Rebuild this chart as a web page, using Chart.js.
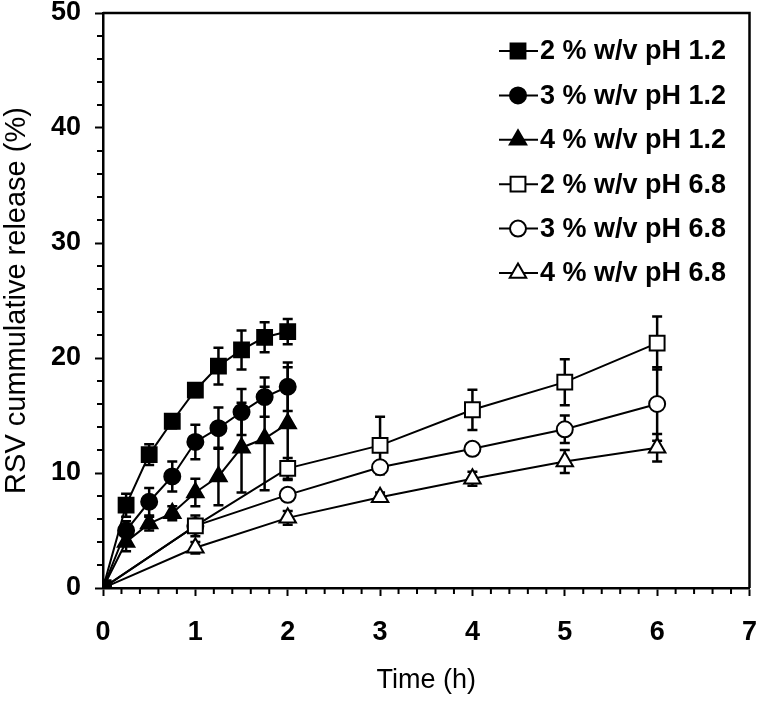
<!DOCTYPE html>
<html>
<head>
<meta charset="utf-8">
<script src="https://cdn.jsdelivr.net/npm/chart.js@4"></script>
<style>
  html, body { margin: 0; padding: 0; background: #fff; }
  #wrap { width: 762px; height: 703px; }
</style>
</head>
<body>
<div id="wrap"><canvas id="graph" width="762" height="703"></canvas></div>
<script>
// sampling times (h)
var timeAcid = [0, 0.25, 0.5, 0.75, 1, 1.25, 1.5, 1.75, 2];
var timeNeutral = [0, 1, 2, 3, 4, 5, 6];

// cumulative release (%) and error (SD)
var acid2 = [0, 7.2, 11.6, 14.5, 17.2, 19.3, 20.7, 21.8, 22.3];
var acid2Err = [0, 1.0, 0.9, 0.6, 0.6, 1.6, 1.7, 1.3, 1.1];
var acid3 = [0, 5.0, 7.5, 9.7, 12.7, 13.9, 15.3, 16.6, 17.5];
var acid3Err = [0, 0.8, 1.2, 1.3, 1.5, 1.8, 2.0, 1.7, 2.1];
var acid4 = [0, 4.0, 5.6, 6.5, 8.3, 9.7, 12.2, 13.0, 14.3];
var acid4Err = [0, 0.8, 0.6, 0.6, 1.2, 2.5, 3.9, 4.5, 4.9];

var neutral2 = [0, 5.4, 10.4, 12.4, 15.5, 17.9, 21.3];
var neutral2Err = [0, 0.9, 0.9, 2.5, 1.75, 2.0, 2.3];
var neutral3 = [0, 5.4, 8.1, 10.5, 12.1, 13.8, 16.0];
var neutral3Err = [0, 0.6, 0.5, 0.5, 0.4, 1.2, 3.2];
var neutral4 = [0, 3.5, 6.1, 7.9, 9.5, 11.0, 12.2];
var neutral4Err = [0, 0.5, 0.6, 0.4, 0.6, 1.0, 1.2];

var seriesLabels = ['2 % w/v pH 1.2', '3 % w/v pH 1.2', '4 % w/v pH 1.2',
                    '2 % w/v pH 6.8', '3 % w/v pH 6.8', '4 % w/v pH 6.8'];

var xTicks = [0, 1, 2, 3, 4, 5, 6, 7];
var yTicks = [0, 10, 20, 30, 40, 50];

function toPoints(xs, ys, errs) {
    var pts = [];
    for (var i = 0; i < xs.length; i++) {
        pts.push({ x: xs[i], y: ys[i], err: errs[i] });
    }
    return pts;
}

function makeSet(label, xs, ys, errs, style, filled) {
    var r = style === 'rect' ? 10.5 : (style === 'triangle' ? 9.5 : 8);
    return {
        label: label,
        data: toPoints(xs, ys, errs),
        showLine: true,
        borderColor: '#000',
        borderWidth: 2,
        pointStyle: style,
        pointRadius: r,
        pointHoverRadius: r,
        pointBackgroundColor: filled ? '#000' : '#fff',
        pointBorderColor: '#000',
        pointBorderWidth: 2
    };
}

var datasets = [
    makeSet(seriesLabels[0], timeAcid, acid2, acid2Err, 'rect', true),
    makeSet(seriesLabels[1], timeAcid, acid3, acid3Err, 'circle', true),
    makeSet(seriesLabels[2], timeAcid, acid4, acid4Err, 'triangle', true),
    makeSet(seriesLabels[3], timeNeutral, neutral2, neutral2Err, 'rect', false),
    makeSet(seriesLabels[4], timeNeutral, neutral3, neutral3Err, 'circle', false),
    makeSet(seriesLabels[5], timeNeutral, neutral4, neutral4Err, 'triangle', false)
];

// error bars drawn under the markers
var errorBars = {
    id: 'errorBars',
    beforeDatasetsDraw: function (chart) {
        var ctx = chart.ctx;
        var xs = chart.scales.x, ys = chart.scales.y;
        ctx.save();
        ctx.strokeStyle = '#000';
        ctx.lineWidth = 2.5;
        chart.data.datasets.forEach(function (ds) {
            ds.data.forEach(function (p) {
                if (!p.err) return;
                var px = xs.getPixelForValue(p.x);
                var top = ys.getPixelForValue(p.y + p.err);
                var bot = ys.getPixelForValue(p.y - p.err);
                ctx.beginPath();
                ctx.moveTo(px, top); ctx.lineTo(px, bot);
                ctx.moveTo(px - 5, top); ctx.lineTo(px + 5, top);
                ctx.moveTo(px - 5, bot); ctx.lineTo(px + 5, bot);
                ctx.stroke();
            });
        });
        ctx.restore();
    }
};

// box on top/right plus minor ticks
var frame = {
    id: 'frame',
    afterDraw: function (chart) {
        var ctx = chart.ctx, a = chart.chartArea;
        var xs = chart.scales.x, ys = chart.scales.y;
        ctx.save();
        ctx.strokeStyle = '#000';
        ctx.lineWidth = 2.5;
        ctx.beginPath();
        ctx.moveTo(a.left, a.top); ctx.lineTo(a.right, a.top); ctx.lineTo(a.right, a.bottom);
        ctx.stroke();
        ctx.lineWidth = 2;
        ctx.beginPath();
        for (var i = 1; i < 35; i++) {
            if (i % 5 === 0) continue;
            var px = xs.getPixelForValue(i * 0.2);
            ctx.moveTo(px, a.bottom); ctx.lineTo(px, a.bottom + 6);
        }
        for (var j = 1; j < 25; j++) {
            if (j % 5 === 0) continue;
            var py = ys.getPixelForValue(j * 2);
            ctx.moveTo(a.left, py); ctx.lineTo(a.left - 6, py);
        }
        ctx.stroke();
        ctx.restore();
    }
};

// legend inside the plot: line through marker, then label
var insideLegend = {
    id: 'insideLegend',
    afterDraw: function (chart) {
        var ctx = chart.ctx;
        ctx.save();
        ctx.font = 'bold 27px "Liberation Sans", Arial, sans-serif';
        ctx.textBaseline = 'middle';
        ctx.textAlign = 'left';
        chart.data.datasets.forEach(function (ds, i) {
            var y = 51 + i * 44.4;
            ctx.strokeStyle = '#000';
            ctx.lineWidth = 2;
            ctx.beginPath();
            ctx.moveTo(499, y); ctx.lineTo(538, y);
            ctx.stroke();
            ctx.fillStyle = ds.pointBackgroundColor;
            ctx.strokeStyle = '#000';
            ctx.lineWidth = 2;
            Chart.helpers.drawPoint(ctx, {
                pointStyle: ds.pointStyle, radius: ds.pointRadius, rotation: 0, borderWidth: 2
            }, 518, y);
            ctx.fillStyle = '#000';
            ctx.fillText(ds.label, 540, y + 1);
        });
        ctx.restore();
    }
};

var tickFont = { family: '"Liberation Sans", Arial, sans-serif', size: 27, weight: 'bold' };
var titleFont = { family: '"Liberation Sans", Arial, sans-serif', size: 27, weight: 'normal' };
var yTitleFont = { family: '"Liberation Sans", Arial, sans-serif', size: 29, weight: 'normal' };

new Chart(document.getElementById('graph'), {
    type: 'scatter',
    data: { datasets: datasets },
    options: {
        responsive: false,
        animation: false,
        layout: { padding: { top: 13, right: 11, left: 0, bottom: 0 } },
        plugins: { legend: { display: false }, tooltip: { enabled: false } },
        scales: {
            x: {
                type: 'linear', min: 0, max: 7,
                afterBuildTicks: function (s) { s.ticks = xTicks.map(function (v) { return { value: v }; }); },
                afterFit: function (s) { s.height = 115; s.paddingLeft = 0; s.paddingRight = 0; },
                ticks: { font: tickFont, color: '#000', padding: 20 },
                grid: { drawOnChartArea: false, tickLength: 8, tickWidth: 2, tickColor: '#000' },
                border: { color: '#000', width: 2.5 },
                title: { display: true, text: 'Time (h)', font: titleFont, color: '#000', padding: { top: 0, bottom: 6 } }
            },
            y: {
                type: 'linear', min: 0, max: 50,
                afterBuildTicks: function (s) { s.ticks = yTicks.map(function (v) { return { value: v }; }); },
                afterFit: function (s) { s.width = 103; s.paddingTop = 0; s.paddingBottom = 0; },
                ticks: { font: tickFont, color: '#000', padding: 14 },
                grid: { drawOnChartArea: false, tickLength: 8, tickWidth: 2, tickColor: '#000' },
                border: { color: '#000', width: 2.5 },
                title: { display: true, text: 'RSV cummulative release (%)', font: yTitleFont, color: '#000', padding: 0 }
            }
        }
    },
    plugins: [errorBars, frame, insideLegend]
});
</script>
</body>
</html>
